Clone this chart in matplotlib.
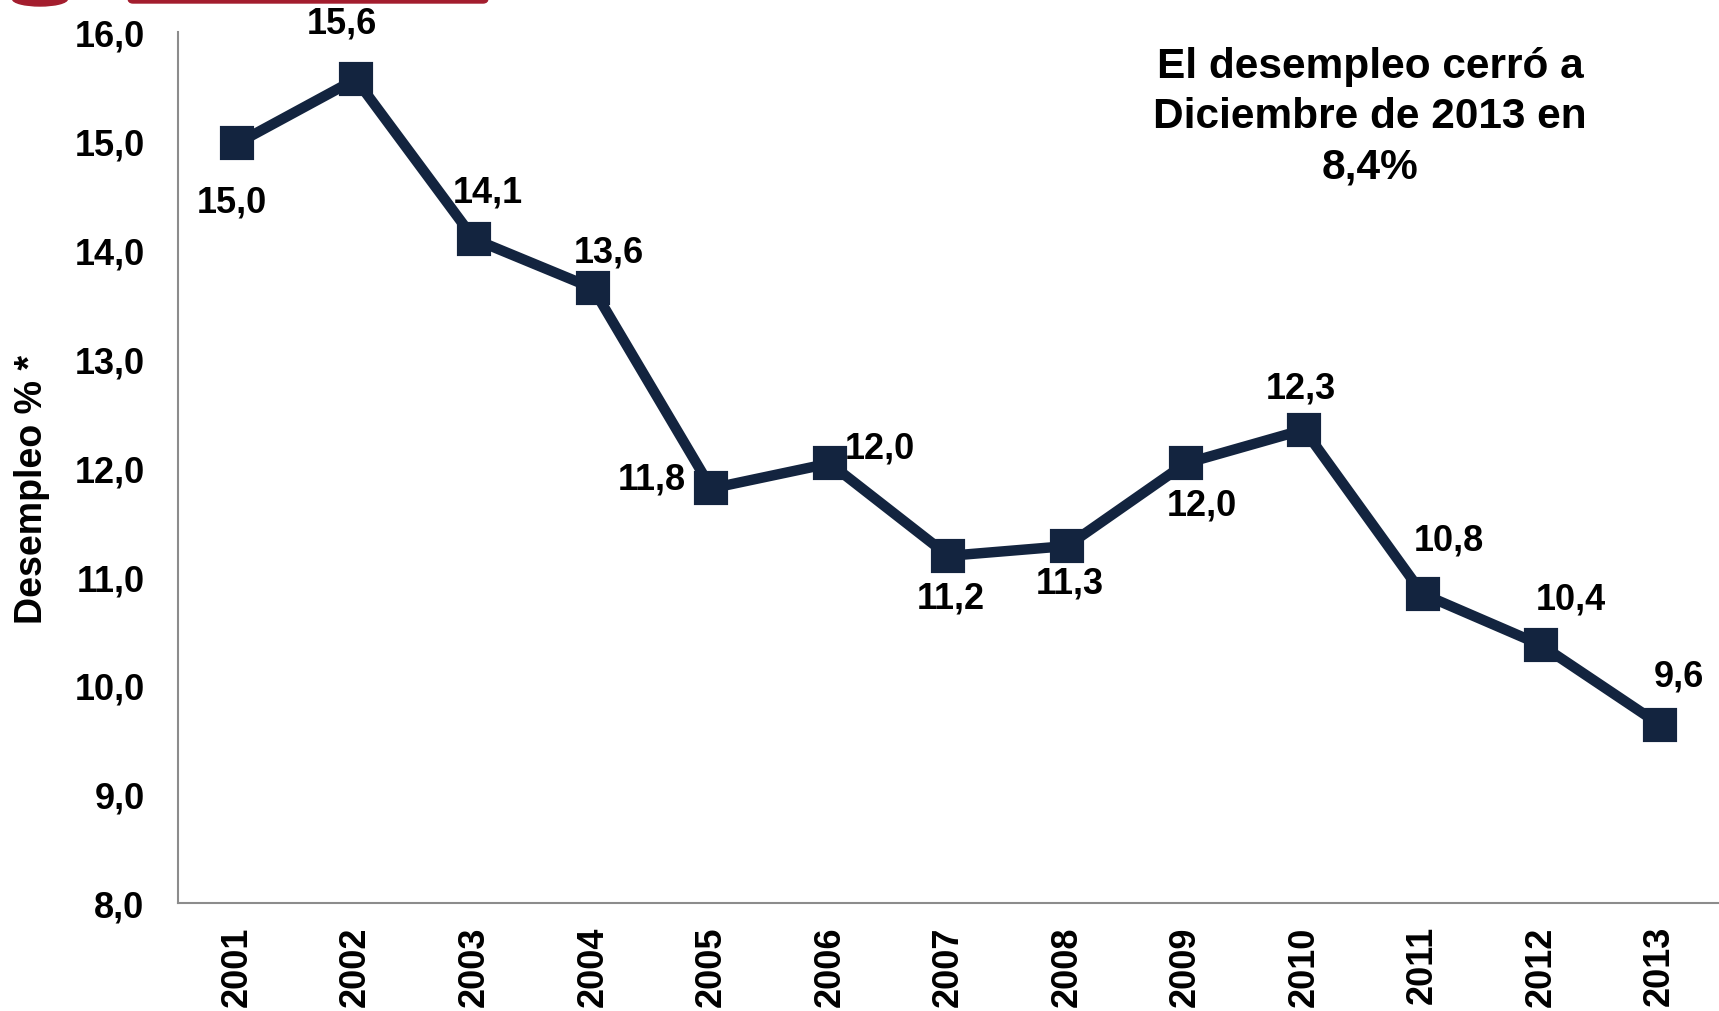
import matplotlib.pyplot as plt
from matplotlib.patches import FancyBboxPatch, Ellipse

plt.rcParams['font.family'] = ['Liberation Sans', 'DejaVu Sans']
plt.rcParams['font.weight'] = 'bold'

years = ['2001', '2002', '2003', '2004', '2005', '2006', '2007',
         '2008', '2009', '2010', '2011', '2012', '2013']
desempleo = [14.98, 15.57, 14.10, 13.65, 11.81, 12.04, 11.19,
             11.28, 12.04, 12.35, 10.84, 10.37, 9.64]
etiquetas = ['15,0', '15,6', '14,1', '13,6', '11,8', '12,0', '11,2',
             '11,3', '12,0', '12,3', '10,8', '10,4', '9,6']

# label offsets in pixels (dx, dy)
offsets = [(-5, -59), (-14, 56), (14, 47), (16, 36), (-60, 9), (50, 15),
           (2, -42), (3, -37), (16, -42), (-3, 42), (26, 54), (30, 46), (19, 49)]

navy = '#13243f'

fig = plt.figure(figsize=(17.19, 10.12), dpi=100)
ax = fig.add_axes([0.1035, 0.1067, 0.8965, 0.8603])

x = range(len(years))
ax.plot(x, desempleo, color=navy, linewidth=7.5,
        marker='s', markersize=22, markeredgewidth=3,
        markeredgecolor=navy, markerfacecolor=navy,
        solid_joinstyle='miter')

for i, (v, t) in enumerate(zip(desempleo, etiquetas)):
    ax.annotate(t, (i, v), xytext=offsets[i], textcoords='offset pixels',
                ha='center', va='center', fontsize=26, fontweight='bold',
                color='black')

ax.set_xlim(-0.5, len(years) - 0.5)
ax.set_ylim(8, 16)
ax.set_yticks([8, 9, 10, 11, 12, 13, 14, 15, 16])
ax.set_yticklabels([f'{v:.1f}'.replace('.', ',') for v in range(8, 17)])
ax.set_xticks(list(x))
ax.set_xticklabels(years, rotation=90)

ax.tick_params(axis='y', length=0, pad=24, labelsize=26)
ax.tick_params(axis='x', length=0, pad=16, labelsize=26)

for s in ['top', 'right']:
    ax.spines[s].set_visible(False)
for s in ['left', 'bottom']:
    ax.spines[s].set_color('#8c8c8c')
    ax.spines[s].set_linewidth(1.5)

ax.set_ylabel('Desempleo % *', fontsize=27, fontweight='bold')
ax.yaxis.set_label_coords(-0.083, 0.476)

fig.text(0.797, 0.884, 'El desempleo cerró a\nDiciembre de 2013 en\n8,4%',
         ha='center', va='center', fontsize=30.5, fontweight='bold',
         linespacing=1.33)

# cropped header shapes at the very top
fig.patches.append(Ellipse((40, 1012), 55, 14, transform=None,
                           color='#a31d2e'))
fig.patches.append(FancyBboxPatch((128, 1008), 360, 10,
                                  boxstyle='round,pad=0,rounding_size=5',
                                  transform=None, color='#a31d2e'))

fig.savefig('out.png', dpi=100)
